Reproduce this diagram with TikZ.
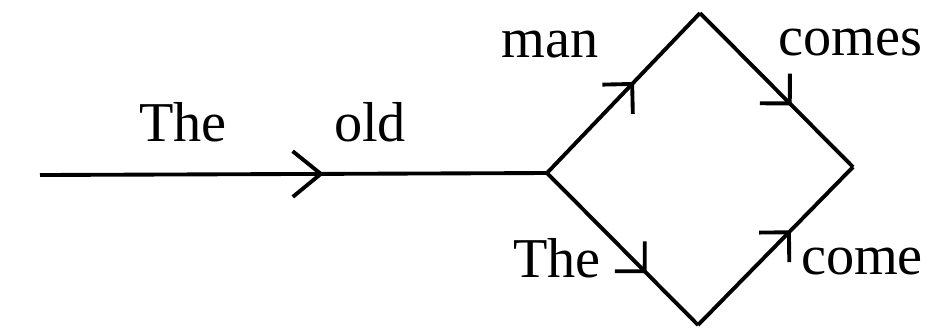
\documentclass[tikz,border=0pt]{standalone}
\usepackage{fontspec}
\setmainfont{Liberation Serif}
\usetikzlibrary{arrows.meta, decorations.markings, positioning}

\begin{document}
\begin{tikzpicture}[
  x=0.01cm, y=-0.01cm,
  font=\fontsize{16}{18}\selectfont,
  edge/.style={line width=1.1pt},
  midarrow/.style={postaction={decorate}, decoration={markings,
    mark=at position #1 with {\arrow{Straight Barb[length=6pt, width=12pt, line width=1.1pt]}}}},
  bigarrow/.style={postaction={decorate}, decoration={markings,
    mark=at position #1 with {\arrow{Straight Barb[length=8pt, width=13pt, line width=1.1pt]}}}},
  word/.style={inner sep=1pt}
]
  \useasboundingbox (0,0) rectangle (936,335);
  % lattice points
  \coordinate (start)  at (40,175);
  \coordinate (split)  at (547,173);
  \coordinate (top)    at (700,13);
  \coordinate (join)   at (853,167);
  \coordinate (bottom) at (698,325);
  % edges
  \draw[edge, bigarrow=0.56] (start) -- (split);
  \draw[edge, midarrow=0.57] (split) -- (top);
  \draw[edge, midarrow=0.6] (top) -- (join);
  \draw[edge, midarrow=0.66] (split) -- (bottom);
  \draw[edge, midarrow=0.6] (bottom) -- (join);
  % words
  \node[word] (w1) at (183,122) {The};
  \node[word] (w2) at (370,122) {old};
  \node[word] (w3) at (550,45)  {man};
  \node[word] (w4) at (850,43)  {comes};
  \node[word] (w5) at (557,258) {The};
  \node[word] (w6) at (862,262) {come};
\end{tikzpicture}
\end{document}
